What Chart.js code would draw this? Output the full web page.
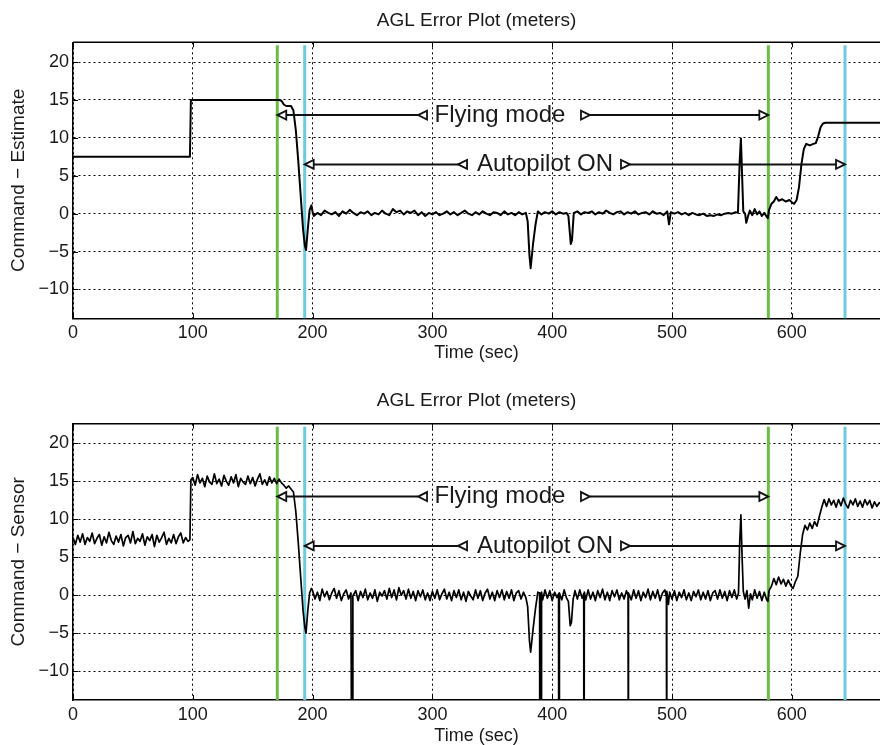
<!DOCTYPE html>
<html><head><meta charset="utf-8">
<script src="https://cdn.jsdelivr.net/npm/chart.js@4"></script>
<style>
html,body{margin:0;padding:0;background:#fff;}
#wrap{position:relative;width:880px;height:745px;overflow:hidden;}
canvas{position:absolute;left:0;}
</style></head><body>
<div id="wrap">
<canvas id="c1" width="880" height="372" style="top:0px"></canvas>
<canvas id="c2" width="880" height="373" style="top:372px"></canvas>
</div>
<script>
// ---------- data ----------
const xTicks = [0, 100, 200, 300, 400, 500, 600];
const yTicks = [-10, -5, 0, 5, 10, 15, 20];
const xRange = [0, 673.6];
const yRange = [-13.8, 22.6];
const titleText = 'AGL Error Plot (meters)';
const xLabel = 'Time (sec)';
const yLabels = ['Command \u2212 Estimate', 'Command \u2212 Sensor'];
const greenTimes = [170.5, 580.4];
const cyanTimes = [193.4, 644.4];
const flyingArrow = { y: 13, text: 'Flying mode', ends: [170.5, 288, 424, 580.4], textAt: 356.4 };
const autopilotArrow = { y: 6.5, text: 'Autopilot ON', ends: [193.4, 321.4, 457.4, 644.4], textAt: 394 };

const estimatePts = [
[0,7.5],[97.6,7.5],[98.4,15.0],[172,15.0],[174,14.9],[176,14.4],[178,14.2],[182,14.2],[184,13.6],[186,11.0],[188,7.0],[190,2.5],[192,-2.0],[193.5,-4.2],[194.5,-4.8],[196,-2.0],[197.5,0.5],[199,1.1],[200,0.2],
[201,-0.3],[204,0.1],[207,-0.2],[210,0.4],[213,0.1],[216,-0.1],[219,0.2],[222,-0.3],[225,0.3],[228,0.0],[231,0.5],[234,0.1],[237,-0.2],[240,0.2],[243,0.0],[246,0.3],[249,-0.2],[252,0.1],[255,-0.1],[258,0.4],[261,0.0],[264,-0.2],[267,0.6],[270,0.2],[273,0.4],[276,-0.1],[279,0.3],[282,0.1],[285,0.4],[288,-0.2],[291,0.2],[294,-0.3],[297,0.1],[300,-0.1],[303,0.2],[306,-0.2],[309,0.0],[312,0.3],[315,-0.1],[318,0.2],[321,-0.2],[324,0.1],[327,0.4],[330,0.0],[333,-0.2],[336,0.2],[339,-0.1],[342,0.3],[345,0.0],[348,-0.2],[351,0.2],[354,0.1],[357,-0.2],[360,0.3],[363,-0.1],[366,0.1],[369,-0.2],[372,0.2],[375,-0.1],[378,0.1],
[379.5,-1.0],[381,-5.5],[382,-7.2],[384,-4.0],[386,-1.5],[388,0.3],[391,-0.1],[394,0.2],[397,0.0],[400,0.3],[403,-0.1],[406,0.2],[409,0.0],[412,0.1],[413.5,-0.3],[415.5,-4.0],[416.5,-3.5],[418,0.1],[421,0.3],[424,-0.1],[427,0.2],[430,0.1],[433,0.3],[436,-0.1],[439,0.2],[442,0.0],[445,0.4],[448,0.1],[451,-0.1],[454,0.2],[457,0.3],[460,-0.1],[463,0.2],[466,0.0],[469,0.3],[472,-0.1],[475,0.1],[478,0.2],[481,-0.1],[484,0.3],[487,0.0],[490,0.1],[493,-0.2],[496,0.3],[497.5,-1.4],[499,0.2],[502,0.0],[505,0.2],[508,-0.1],[511,0.1],[514,-0.2],[517,0.1],[520,-0.1],[523,-0.2],[526,0.0],[529,-0.3],[532,-0.2],[535,-0.3],[538,-0.1],[541,-0.2],[544,0.0],[547,0.1],[550,0.0],[553,0.2],[555,0.1],[556.5,7.0],[557.5,9.9],[558.5,5.0],[559.5,0.3],[561,0.0],[562,-1.2],[563.5,-0.3],[565,0.4],[567,-0.2],[569,0.6],[571,-0.1],[573,0.3],[575,-0.3],[577,0.1],[579,-0.4],[580,-0.6],[581,0.5],[583,1.3],[585,1.6],[587,2.2],[589,1.7],[592,1.9],[595,1.6],[598,1.8],[600,1.5],[602,1.3],[604,1.8],[606,3.5],[608,6.5],[610,8.5],[612,9.2],[615,9.0],[618,9.2],[620,9.3],[622,10.2],[624,11.4],[626,11.9],[628,12.0],[675,12.0]
];

const sensorPts = [
[0,7.6],[2,6.7],[4,7.9],[6,7.0],[8,8.1],[10,6.7],[12,7.6],[14,7.1],[16,8.2],[18,6.8],[20,7.5],[22,8.0],[24,6.6],[26,7.7],[28,6.9],[30,8.3],[32,7.2],[34,6.7],[36,7.8],[38,7.0],[40,8.0],[42,6.5],[44,7.6],[46,7.9],[48,6.9],[50,8.4],[52,6.8],[54,7.5],[56,7.1],[58,8.1],[60,6.6],[62,7.7],[64,7.2],[66,8.0],[68,6.4],[70,7.9],[72,7.0],[74,7.6],[76,8.3],[78,6.7],[80,7.5],[82,6.9],[84,8.0],[86,6.8],[88,7.7],[90,8.2],[92,6.9],[94,7.6],[96,7.1],[97.6,7.3],[98.4,15.2],
[100,15.5],[102,14.5],[104,15.9],[106,14.8],[108,15.4],[110,14.3],[112,15.7],[114,14.9],[116,14.6],[118,16.0],[120,14.7],[122,15.3],[124,14.4],[126,15.8],[128,15.0],[130,14.5],[132,15.6],[134,14.8],[136,15.9],[138,14.3],[140,15.4],[142,14.9],[144,14.6],[146,15.7],[148,14.7],[150,15.5],[152,14.4],[154,15.3],[156,16.0],[158,14.6],[160,15.2],[162,14.5],[164,15.6],[166,14.8],[168,15.4],[170,14.7],[172,15.3],[174,14.8],[176,14.5],[178,14.1],[180,14.4],[182,14.0],[184,13.6],[186,11.0],[188,7.0],[190,2.5],[192,-2.0],[193.5,-4.2],[194.5,-5.0],[196,-2.0],[197.5,0.3],[199,0.9],
[200,0.6],[202,-0.5],[204,0.4],[206,-0.7],[208,0.8],[210,-0.2],[212,0.5],[214,-0.6],[216,0.3],[218,0.9],[220,-0.4],[222,0.6],[224,-0.7],[226,0.2],[228,0.7],[230,-0.5],[232,0.3],[233,-40],[233.6,-0.1],[236,0.6],[238,-0.7],[240,0.5],[242,-0.3],[244,0.8],[246,-0.6],[248,0.3],[250,-0.4],[252,0.7],[254,-0.8],[256,0.4],[258,-0.1],[260,0.6],[262,-0.5],[264,0.9],[266,-0.3],[268,0.7],[270,-0.6],[272,1.0],[274,0.0],[276,0.6],[278,-0.5],[280,0.8],[282,-0.4],[284,0.5],[286,-0.7],[288,0.6],[290,-0.2],[292,0.7],[294,-0.6],[296,0.3],[298,-0.7],[300,0.5],[302,-0.4],[304,0.7],[306,-0.6],[308,0.2],[310,0.8],[312,-0.5],[314,0.4],[316,-0.7],[318,0.6],[320,-0.3],[322,0.7],[324,-0.6],[326,0.4],[328,-0.8],[330,0.5],[332,-0.1],[334,-0.6],[336,0.7],[338,-0.4],[340,0.6],[342,-0.7],[344,0.3],[346,0.8],[348,-0.5],[350,0.4],[352,-0.7],[354,0.6],[356,-0.3],[358,0.7],[360,-0.6],[362,0.5],[364,-0.4],[366,0.7],[368,-0.7],[370,0.3],[372,0.6],[374,-0.5],[376,0.4],[378,-0.3],
[379.5,-1.5],[381,-6.0],[382,-7.5],[384,-4.5],[386,-1.8],[388,0.4],[389.5,0.3],[389.7,-40],[390.9,-40],[391.1,0.4],[392,-0.6],[394,0.7],[396,-0.4],[398,0.6],[400,-0.7],[402,0.4],[404,-0.3],[405.3,0.2],[405.5,-40],[405.8,-40],[406,0.3],[408,-0.6],[410,0.7],[412,-0.4],[413.5,-0.8],[415,-4.0],[416,-3.6],[417.5,-0.5],[419,0.6],[421,-0.5],[423,0.7],[425,-0.4],[426.3,0.2],[426.5,-40],[426.8,0.4],[428,-0.6],[430,0.7],[432,-0.5],[434,0.4],[436,-0.7],[438,0.6],[440,-0.3],[442,0.8],[444,-0.6],[446,0.4],[448,-0.7],[450,0.6],[452,-0.2],[454,0.7],[456,-0.6],[458,0.3],[460,-0.5],[462,0.6],[463.3,0.0],[463.5,-40],[463.8,0.3],[466,-0.6],[468,0.7],[470,-0.4],[472,0.6],[474,-0.7],[476,0.4],[478,-0.3],[480,0.8],[482,-0.6],[484,0.5],[486,-0.4],[488,0.7],[490,-0.7],[492,0.3],[494,0.7],[495.3,-0.2],[495.5,-40],[495.8,0.5],[497,-1.2],[498,0.4],[500,-0.5],[502,0.6],[504,-0.7],[506,0.4],[508,-0.3],[510,0.7],[512,-0.6],[514,0.3],[516,-0.7],[518,0.5],[520,-0.2],[522,0.7],[524,-0.6],[526,0.4],[528,-0.5],[530,0.6],[532,-0.7],[534,0.3],[536,0.6],[538,-0.5],[540,0.7],[542,-0.4],[544,0.5],[546,-0.7],[548,0.6],[550,-0.3],[552,0.7],[554,-0.5],[555.5,0.3],[556.5,7.0],[557.5,10.6],[558.5,5.0],[559.5,0.5],[561,-0.5],[562.5,0.6],[564,-1.7],[565.5,0.2],[567,-0.6],[569,0.7],[571,-0.4],[573,0.5],[575,-0.7],[577,0.4],[579,-0.6],[580,-0.8],[581,0.6],[583,1.2],[585,2.2],[587,1.4],[589,2.4],[591,1.5],[593,2.1],[595,1.2],[597,2.0],[599,1.3],[601,0.9],[603,1.8],[605,2.5],[607,5.5],[609,8.0],[611,9.2],[613,8.6],[615,9.5],[617,8.8],[619,9.7],[621,9.1],[623,10.4],[625,11.6],[627,12.6],[629,11.7],[631,12.7],[633,11.9],[635,12.5],[637,11.6],[639,12.6],[641,11.8],[643,12.8],[645,12.0],[647,11.5],[649,12.5],[651,11.9],[653,12.7],[655,11.7],[657,12.4],[659,11.6],[661,12.6],[663,11.9],[665,12.5],[667,11.5],[669,12.3],[671,11.7],[673,12.2],[675,11.9]
];

// ---------- drawing ----------
const FONT = '"Liberation Sans", Arial, Helvetica, sans-serif';
const GREEN = '#6abd45';
const CYAN = '#6ccbe0';

function vline(t, color) {
  return { data: [{ x: t, y: 22.2 }, { x: t, y: -15 }], borderColor: color, borderWidth: 3,
           pointRadius: 0, tension: 0, fill: false };
}

function tri(ctx, tipX, y, dir) {
  const L = 9, H = 4.5;
  ctx.beginPath();
  ctx.moveTo(tipX, y);
  ctx.lineTo(tipX - dir * L, y - H);
  ctx.lineTo(tipX - dir * L, y + H);
  ctx.closePath();
  ctx.fillStyle = '#fff';
  ctx.fill();
  ctx.stroke();
}

function drawArrow(ctx, xs, ys, a) {
  const y = ys.getPixelForValue(a.y);
  const p = a.ends.map(v => xs.getPixelForValue(v));
  ctx.strokeStyle = '#111';
  ctx.lineWidth = 2;
  ctx.beginPath();
  ctx.moveTo(p[0] + 8, y); ctx.lineTo(p[1], y);
  ctx.moveTo(p[2] + 9, y); ctx.lineTo(p[3] - 8, y);
  ctx.stroke();
  ctx.lineWidth = 1.8;
  tri(ctx, p[0], y, -1);
  tri(ctx, p[1], y, -1);
  tri(ctx, p[2] + 9, y, 1);
  tri(ctx, p[3], y, 1);
  ctx.fillStyle = '#1a1a1a';
  ctx.font = '24px ' + FONT;
  ctx.textAlign = 'center';
  ctx.textBaseline = 'middle';
  ctx.fillText(a.text, xs.getPixelForValue(a.textAt), y);
}

const framePlugin = {
  id: 'frame',
  afterDatasetsDraw(chart) {
    const { ctx, chartArea: a } = chart;
    const xs = chart.scales.x, ys = chart.scales.y;
    ctx.save();
    ctx.strokeStyle = '#000';
    ctx.lineWidth = 1.5;
    ctx.beginPath();
    ctx.moveTo(a.left, a.top); ctx.lineTo(a.right, a.top);
    ctx.stroke();
    ctx.lineWidth = 1;
    ctx.beginPath();
    xTicks.forEach(v => {
      const px = Math.round(xs.getPixelForValue(v)) + 0.5;
      ctx.moveTo(px, a.bottom); ctx.lineTo(px, a.bottom - 5);
      ctx.moveTo(px, a.top); ctx.lineTo(px, a.top + 5);
    });
    yTicks.forEach(v => {
      const py = Math.round(ys.getPixelForValue(v)) + 0.5;
      ctx.moveTo(a.left, py); ctx.lineTo(a.left + 5, py);
    });
    ctx.stroke();
    drawArrow(ctx, xs, ys, flyingArrow);
    drawArrow(ctx, xs, ys, autopilotArrow);
    ctx.restore();
  }
};

function makeChart(id, pts, yLabel, lw, cfg) {
  return new Chart(document.getElementById(id), {
    type: 'line',
    data: {
      datasets: [
        { data: pts.map(p => ({ x: p[0], y: p[1] })), borderColor: '#000', borderWidth: lw,
          pointRadius: 0, tension: 0, fill: false, borderJoinStyle: 'round' },
        vline(greenTimes[0], GREEN), vline(greenTimes[1], GREEN),
        vline(cyanTimes[0], CYAN), vline(cyanTimes[1], CYAN)
      ]
    },
    options: {
      responsive: false, animation: false, events: [],
      layout: { padding: 0 },
      plugins: {
        legend: { display: false }, tooltip: { enabled: false },
        title: { display: true, fullSize: false, text: titleText, color: '#1a1a1a',
                 font: { family: FONT, size: 19, weight: 'normal' },
                 padding: { top: cfg.titleTop, bottom: cfg.titleBottom } }
      },
      scales: {
        x: {
          type: 'linear', min: xRange[0], max: xRange[1],
          afterBuildTicks: s => { s.ticks = xTicks.map(v => ({ value: v })); },
          afterFit: s => { s.height = cfg.xHeight; },
          ticks: { color: '#1a1a1a', font: { family: FONT, size: 18 }, padding: cfg.xTickPad,
                   maxRotation: 0, autoSkip: false },
          grid: { color: '#000', lineWidth: 1, drawTicks: false },
          border: { display: true, color: '#000', width: 1.5, dash: [2, 3] },
          title: { display: true, text: xLabel, color: '#1a1a1a',
                   font: { family: FONT, size: 18, lineHeight: cfg.xTitleLH },
                   padding: { top: 0, bottom: cfg.xTitlePad } }
        },
        y: {
          type: 'linear', min: yRange[0], max: yRange[1],
          afterBuildTicks: s => { s.ticks = yTicks.map(v => ({ value: v })); },
          afterFit: s => { s.width = 73; },
          ticks: { color: '#1a1a1a', font: { family: FONT, size: 18 }, padding: 4,
                   callback: v => String(v).replace('-', '\u2212') },
          grid: { color: '#000', lineWidth: 1, drawTicks: false },
          border: { display: true, color: '#000', width: 1.5, dash: [2, 3] },
          title: { display: true, text: yLabel, color: '#1a1a1a',
                   font: { family: FONT, size: 19 }, padding: { top: 7, bottom: 0 } }
        }
      }
    },
    plugins: [framePlugin]
  });
}

makeChart('c1', estimatePts, yLabels[0], 2,
  { titleTop: 9, titleBottom: 10.5, xHeight: 53.7, xTickPad: 4, xTitleLH: 1.2, xTitlePad: 8.2 });
makeChart('c2', sensorPts, yLabels[1], 1.7,
  { titleTop: 17.6, titleBottom: 11.3, xHeight: 45, xTickPad: 4.2, xTitleLH: 1.0, xTitlePad: 0 });
</script>
</body></html>
